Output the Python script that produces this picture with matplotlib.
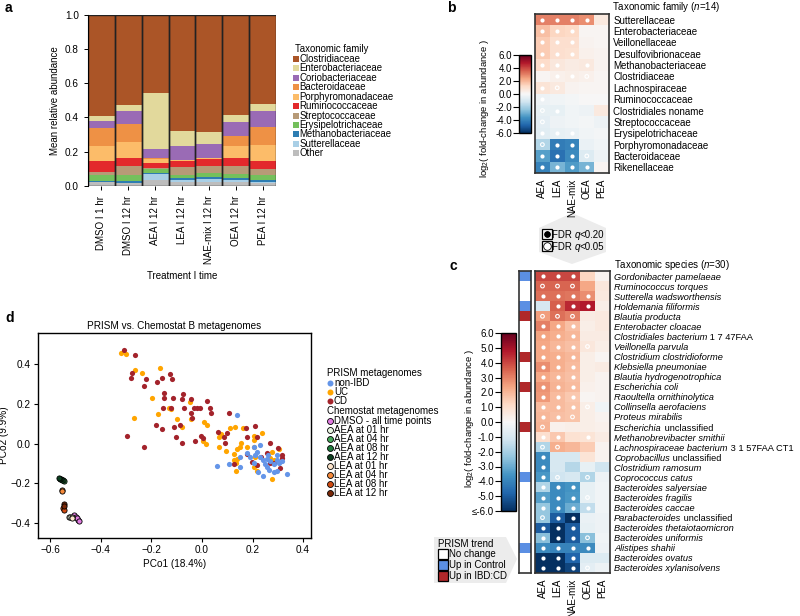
import numpy as np
import matplotlib
matplotlib.use('Agg')
import matplotlib.pyplot as plt
from matplotlib.colors import ListedColormap, Normalize
from matplotlib.patches import Polygon
from matplotlib.lines import Line2D
import matplotlib.transforms as mtransforms
import matplotlib.cm as cm

plt.rcParams['font.family'] = ['Liberation Sans', 'DejaVu Sans']
plt.rcParams['mathtext.fontset'] = 'custom'
plt.rcParams['mathtext.rm'] = 'Liberation Sans'
plt.rcParams['mathtext.it'] = 'Liberation Sans:italic'
plt.rcParams['mathtext.bf'] = 'Liberation Sans:bold'

# ---------------- DATA ----------------
# Panel a
treatments = ['DMSO I 1 hr', 'DMSO I 12 hr', 'AEA I 12 hr', 'LEA I 12 hr',
              'NAE-mix I 12 hr', 'OEA I 12 hr', 'PEA I 12 hr']
families_a = ['Clostridiaceae', 'Enterobacteriaceae', 'Coriobacteriaceae', 'Bacteroidaceae',
              'Porphyromonadaceae', 'Ruminococcaceae', 'Streptococcaceae', 'Erysipelotrichaceae',
              'Methanobacteriaceae', 'Sutterellaceae', 'Other']
other = [0.021, 0.015, 0.035, 0.021, 0.021, 0.023, 0.018]
sutterellaceae = [0.004, 0.005, 0.035, 0.016, 0.022, 0.010, 0.007]
methanobacteriaceae = [0.006, 0.008, 0.005, 0.011, 0.009, 0.011, 0.008]
erysipelotrichaceae = [0.033, 0.035, 0.024, 0.016, 0.024, 0.024, 0.029]
streptococcaceae = [0.017, 0.052, 0.006, 0.046, 0.038, 0.050, 0.038]
ruminococcaceae = [0.066, 0.048, 0.029, 0.033, 0.043, 0.047, 0.047]
porphyromonadaceae = [0.087, 0.092, 0.023, 0.006, 0.006, 0.070, 0.093]
bacteroidaceae = [0.107, 0.108, 0.006, 0.004, 0.003, 0.058, 0.105]
coriobacteriaceae = [0.037, 0.077, 0.054, 0.078, 0.078, 0.079, 0.092]
enterobacteriaceae = [0.033, 0.035, 0.324, 0.087, 0.068, 0.041, 0.041]
clostridiaceae = [0.589, 0.525, 0.459, 0.682, 0.688, 0.587, 0.522]

# Panel b
conditions = ['AEA', 'LEA', 'NAE-mix', 'OEA', 'PEA']
families_b = ['Sutterellaceae', 'Enterobacteriaceae', 'Veillonellaceae', 'Desulfovibrionaceae',
              'Methanobacteriaceae', 'Clostridiaceae', 'Lachnospiraceae', 'Ruminococcaceae',
              'Clostridiales noname', 'Streptococcaceae', 'Erysipelotrichaceae',
              'Porphyromonadaceae', 'Bacteroidaceae', 'Rikenellaceae']
fc_b = [[3.0, 3.0, 3.0, 2.8, 0.6],
        [1.8, 1.3, 1.2, 0.1, 0.1],
        [1.5, 1.0, 1.0, 0.2, 0.1],
        [1.5, 1.0, 0.9, 0.3, 0.2],
        [1.1, 0.7, 0.5, 0.6, 0.2],
        [0.1, 0.3, 0.4, 0.3, 0.1],
        [0.8, 0.6, 0.2, 0.1, 0.1],
        [-0.3, -0.2, -0.1, 0.0, 0.0],
        [-0.5, -0.5, -0.2, -0.3, 0.6],
        [-0.6, -0.3, -0.2, -0.1, -0.3],
        [-0.7, -0.5, -0.4, -0.2, -0.1],
        [-1.8, -4.2, -4.0, -0.4, -0.2],
        [-3.3, -4.5, -3.8, -0.8, -0.3],
        [-4.0, -2.8, -3.4, -2.8, 0.1]]
# F = FDR q<0.05 (filled), R = FDR q<0.20 (ring)
sig_b = ['FFFF-', 'FFF--', 'FFF--', 'FFF--', 'FF-F-', '-FFR-', 'FR---', 'F----',
         'RF---', 'R----', 'FFF--', 'RFF--', 'FFFR-', 'FFFF-']
fdr_labels = ['<0.20', '<0.05']

# Panel c: italic name part + upright suffix
species_it = ['Gordonibacter pamelaeae', 'Ruminococcus torques', 'Sutterella wadsworthensis',
              'Holdemania filiformis', 'Blautia producta', 'Enterobacter cloacae',
              'Clostridiales bacterium', 'Veillonella parvula', 'Clostridium clostridioforme',
              'Klebsiella pneumoniae', 'Blautia hydrogenotrophica', 'Escherichia coli',
              'Raoultella ornithinolytica', 'Collinsella aerofaciens', 'Proteus mirabilis',
              'Escherichia', 'Methanobrevibacter smithii', 'Lachnospiraceae bacterium',
              'Coprobacillus', 'Clostridium ramosum', 'Coprococcus catus',
              'Bacteroides salyersiae', 'Bacteroides fragilis', 'Bacteroides caccae',
              'Parabacteroides', 'Bacteroides thetaiotaomicron', 'Bacteroides uniformis',
              'Alistipes shahii', 'Bacteroides ovatus', 'Bacteroides xylanisolvens']
species_suffix = ['', '', '', '', '', '', '1 7 47FAA', '', '', '', '', '', '', '', '',
                  'unclassified', '', '3 1 57FAA CT1', 'unclassified', '', '', '', '', '',
                  'unclassified', '', '', '', '', '']
fc_c = [[4.0, 4.0, 4.0, 1.3, 0.2],
        [3.5, 3.5, 3.5, 2.3, 0.7],
        [3.3, 3.3, 3.2, 2.8, 0.6],
        [-1.0, 3.6, 4.5, 4.8, 0.4],
        [2.5, 3.3, 3.0, 0.5, 0.6],
        [3.0, 2.3, 1.8, 0.4, 0.6],
        [2.4, 2.2, 2.0, 0.5, 0.5],
        [2.3, 2.0, 1.8, 0.7, 0.4],
        [2.3, 2.2, 2.0, 0.4, 0.1],
        [2.8, 2.2, 1.9, 0.4, 0.5],
        [2.3, 2.0, 1.8, 0.4, 0.2],
        [2.7, 2.1, 1.9, 0.3, 0.2],
        [2.6, 1.9, 1.6, 0.1, 0.2],
        [1.9, 1.9, 1.7, 0.4, -0.2],
        [2.0, 1.8, 1.7, 0.4, 0.2],
        [2.1, 0.3, 0.4, 0.4, 0.3],
        [1.0, 1.6, 0.9, 0.8, 0.5],
        [-1.8, 2.2, 2.0, 1.5, 0.2],
        [-3.8, -1.0, -1.0, 0.8, 0.2],
        [-3.8, -1.0, -1.7, -0.5, -1.2],
        [-3.5, -1.2, -1.0, -1.8, -0.3],
        [-1.8, -3.8, -3.6, -0.5, -0.2],
        [-3.3, -3.8, -3.5, -0.5, -0.2],
        [-2.3, -3.8, -3.0, -1.5, -0.2],
        [-2.3, -5.0, -6.0, -0.4, -0.3],
        [-5.0, -6.0, -5.0, -0.5, -0.3],
        [-2.5, -6.0, -5.0, -2.5, -0.2],
        [-3.8, -4.0, -4.0, -3.8, -0.3],
        [-6.0, -6.0, -4.8, -0.8, -0.8],
        [-6.0, -6.0, -5.5, -0.6, -0.3]]
sig_c = ['FFF--', 'RRR--', 'FFFF-', '-FFF-', 'RRR--', 'FFF--', 'FFF--', 'FFFR-',
         'FFF--', 'FFF--', 'FFF--', 'FFF--', 'FFF--', 'FFFR-', 'FFR--', 'R----',
         'FF-F-', 'RR---', 'F----', 'F----', 'FR-R-', 'FFF--', 'FFFR-', 'FFFF-',
         'RFF--', 'FFF--', 'FFFR-', 'FFFF-', 'FFF--', 'FFFR-']
# 0 = no change, 1 = up in control, 2 = up in IBD:CD
trend_c = [1, 0, 0, 1, 2, 0, 0, 0, 2, 0, 0, 2, 0, 0, 0, 2, 0, 0, 0, 0, 1, 0, 0, 0, 0, 0, 0, 1, 0, 0]
trend_labels = ['No change', 'Up in Control', 'Up in IBD:CD']

# Panel d
nonibd_x = [0.138, 0.061, 0.109, 0.177, 0.204, 0.230, 0.210, 0.230, 0.243, 0.256, 0.270, 0.284,
            0.296, 0.316, 0.338, 0.296, 0.256, 0.243, 0.223, 0.284, 0.296, 0.204, 0.190, 0.151,
            0.151, 0.267, 0.250, 0.306, 0.263, 0.217]
nonibd_y = [0.143, -0.113, -0.103, -0.046, -0.016, -0.009, -0.058, -0.066, -0.083, -0.080,
            -0.087, -0.103, -0.083, -0.087, -0.154, -0.058, -0.117, -0.164, -0.142, -0.142,
            -0.137, -0.100, -0.066, -0.117, -0.066, -0.133, -0.103, -0.100, -0.058, -0.041]
uc_x = [-0.321, -0.301, -0.264, -0.238, -0.165, -0.196, -0.268, -0.172, -0.132, -0.123, -0.049,
        -0.098, -0.043, 0.009, 0.022, -0.080, 0.015, 0.006, 0.069, 0.077, 0.111, 0.131, 0.164,
        0.069, 0.097, 0.125, 0.138, 0.151, 0.154, 0.140, 0.125, 0.134, 0.136, 0.204, 0.239,
        0.204, 0.210, 0.204, 0.217, 0.277, 0.284, 0.270, 0.305, 0.277, 0.204, 0.177]
uc_y = [0.457, 0.450, 0.368, 0.356, 0.380, 0.231, 0.127, 0.150, 0.177, 0.173, 0.210, 0.125,
        0.123, 0.110, 0.095, 0.081, -0.004, 0.011, 0.031, 0.048, 0.078, 0.085, 0.080, -0.016,
        -0.036, -0.055, -0.028, -0.016, 0.001, -0.080, -0.083, -0.100, -0.139, 0.038, 0.054,
        0.017, -0.066, -0.117, -0.137, -0.041, -0.083, -0.075, -0.030, -0.177, -0.016, -0.016]
cd_x = [-0.306, -0.265, -0.277, -0.281, -0.222, -0.228, -0.176, -0.157, -0.126, -0.119, -0.148,
        -0.148, -0.113, -0.080, -0.044, -0.074, 0.022, -0.152, -0.122, -0.069, -0.043, -0.030,
        -0.018, -0.007, 0.032, 0.037, -0.181, -0.159, -0.109, -0.087, -0.041, -0.297, -0.102,
        -0.078, -0.027, -0.004, 0.005, -0.227, 0.064, 0.088, 0.099, 0.108, 0.093, 0.125, 0.173,
        0.210, 0.177, 0.217, 0.270, 0.197, 0.233, 0.270, 0.302, 0.316, 0.309, 0.177, 0.286,
        0.256, 0.217, 0.317]
cd_y = [0.469, 0.444, 0.355, 0.331, 0.326, 0.289, 0.311, 0.330, 0.350, 0.326, 0.252, 0.231,
        0.227, 0.225, 0.225, 0.247, 0.215, 0.177, 0.177, 0.177, 0.152, 0.180, 0.177, 0.177,
        0.177, 0.152, 0.091, 0.071, 0.081, 0.093, 0.127, 0.039, 0.031, 0.004, 0.014, 0.039,
        0.028, -0.016, 0.058, 0.034, 0.054, 0.152, 0.004, -0.103, 0.080, 0.090, 0.034, 0.031,
        0.001, -0.095, -0.066, -0.097, -0.023, -0.058, -0.125, -0.053, -0.100, -0.050, -0.108,
        -0.071]
chem_groups = ['DMSO - all time points', 'AEA at 01 hr', 'AEA at 04 hr', 'AEA at 08 hr',
               'AEA at 12 hr', 'LEA at 01 hr', 'LEA at 04 hr', 'LEA at 08 hr', 'LEA at 12 hr']
chem_x = [[-0.505, -0.498, -0.490, -0.495, -0.485], [-0.525, -0.520], [-0.545, -0.548],
          [-0.553, -0.557], [-0.562, -0.565], [-0.512, -0.515], [-0.553, -0.551],
          [-0.548, -0.547], [-0.545, -0.546]]
chem_y = [[-0.360, -0.370, -0.385, -0.375, -0.390], [-0.367, -0.370], [-0.188, -0.185],
          [-0.182, -0.179], [-0.176, -0.175], [-0.368, -0.372], [-0.236, -0.240],
          [-0.325, -0.333], [-0.303, -0.313]]

# ---------------- STYLE ----------------
fam_colors = ['#AB5527', '#E2D99C', '#9A6BB5', '#EE9145', '#FCBC69', '#E3292C', '#B79A77',
              '#74C05C', '#2E7DB2', '#A9CFE6', '#BDBDBD']
chem_colors = ['#E07BE0', '#EAF6E4', '#45A85A', '#1E7A3C', '#0B3D1E', '#FDE5CC', '#F5893A',
               '#D04A10', '#7A2808']
c_nonibd, c_uc, c_cd = '#6495E8', '#FFA500', '#A3232B'
trend_blue, trend_red = '#5B8FE3', '#B0282A'

W, H = 800, 616
fig = plt.figure(figsize=(8, 6.16), dpi=100)


def rect(x0, y0, x1, y1):
    return [x0 / W, 1 - y1 / H, (x1 - x0) / W, (y1 - y0) / H]


def fxy(x, y):
    return (x / W, 1 - y / H)


def fig_marker(x, y, **kw):
    fig.add_artist(Line2D([x / W], [1 - y / H], transform=fig.transFigure,
                          linestyle='none', **kw))


FS = 7.0

# panel labels
for lab, (x, y) in zip('abcd', [(5, 8), (447, 8), (449, 266), (5, 318)]):
    fig.text(*fxy(x, y), lab, fontsize=10, fontweight='bold', ha='left', va='center')

# ---------------- PANEL A ----------------
axa = fig.add_axes(rect(88, 14.5, 276, 186))
stack = [other, sutterellaceae, methanobacteriaceae, erysipelotrichaceae, streptococcaceae,
         ruminococcaceae, porphyromonadaceae, bacteroidaceae, coriobacteriaceae,
         enterobacteriaceae, clostridiaceae]
stack_cols = fam_colors[::-1]
xpos = np.arange(len(treatments))
bottom = np.zeros(len(treatments))
for vals, col in zip(stack, stack_cols):
    axa.bar(xpos, vals, bottom=bottom, width=1.0, color=col, linewidth=0)
    bottom = bottom + np.array(vals)
axa.bar(xpos, bottom, width=1.0, fill=False, edgecolor='#222222', linewidth=1.0)
axa.set_xlim(-0.5, len(treatments) - 0.5)
axa.set_ylim(0, 1.0)
for s in ['top', 'right', 'bottom']:
    axa.spines[s].set_visible(False)
axa.spines['left'].set_linewidth(0.8)
yt = np.arange(0, 1.01, 0.2)
axa.set_yticks(yt)
axa.set_yticklabels(['%.1f' % v for v in yt], fontsize=7.2)
axa.set_xticks(xpos)
axa.set_xticklabels(treatments, rotation=90, fontsize=7.0)
axa.tick_params(axis='both', length=3, width=0.7)
axa.tick_params(axis='x', pad=4)
axa.set_ylabel('Mean relative abundance', fontsize=7.0)
axa.yaxis.set_label_coords((60 - 88) / 188.0, 0.5)
axa.set_xlabel('Treatment I time', fontsize=7.0, labelpad=5)

# legend a (manual)
fig.text(*fxy(295, 49), 'Taxonomic family', fontsize=6.9, ha='left', va='center')
for k, (col, lab) in enumerate(zip(fam_colors, families_a)):
    yy = 58.7 + k * 9.47
    fig_marker(295.5, yy, marker='s', markersize=5, markerfacecolor=col, markeredgewidth=0)
    fig.text(*fxy(299.5, yy), lab, fontsize=6.9, ha='left', va='center')

# ---------------- heatmap helper ----------------
norm = Normalize(vmin=-6, vmax=6)


def heatmap(ax, vals, sig):
    vals = np.array(vals)
    n = vals.shape[0]
    ax.pcolormesh(np.arange(vals.shape[1] + 1), np.arange(n + 1), vals, cmap='RdBu_r',
                  norm=norm, linewidth=0)
    ax.set_xlim(0, vals.shape[1])
    ax.set_ylim(n, 0)
    for i, srow in enumerate(sig):
        for j, ch in enumerate(srow):
            if ch == 'F':
                ax.scatter(j + 0.5, i + 0.5, s=9, color='white', linewidths=0, zorder=3)
            elif ch == 'R':
                ax.scatter(j + 0.5, i + 0.5, s=7, facecolors='none', edgecolors='white',
                           linewidths=0.8, zorder=3)
    for s in ax.spines.values():
        s.set_linewidth(1.2)
        s.set_color('#333333')
    ax.set_xticks(np.arange(vals.shape[1]) + 0.5)
    ax.set_xticklabels(conditions, rotation=90, fontsize=FS)
    ax.set_yticks(np.arange(n) + 0.5)
    ax.yaxis.tick_right()
    ax.tick_params(axis='both', length=0, pad=3)


# ---------------- PANEL B ----------------
axb = fig.add_axes(rect(535, 14, 609, 173))
heatmap(axb, fc_b, sig_b)
axb.set_yticklabels(families_b, fontsize=7.0)
axb.tick_params(axis='x', pad=4)
fig.text(*fxy(612, 7), r'Taxonomic family ($\it{n}$=14)', fontsize=7.0, ha='left', va='center')

caxb = fig.add_axes(rect(519, 55, 531, 133))
cbb = fig.colorbar(cm.ScalarMappable(norm=norm, cmap='RdBu_r'), cax=caxb)
bt = np.arange(-6, 6.1, 2)
cbb.set_ticks(bt)
cbb.set_ticklabels(['%.1f' % v for v in bt])
caxb.yaxis.set_ticks_position('left')
caxb.tick_params(labelsize=7.0, length=4, width=0.8, pad=1)
cbb.outline.set_linewidth(1.0)
fig.text(*fxy(485, 108), r'log$_2$( fold-change in abundance )', rotation=90, fontsize=6.8,
         ha='center', va='center')

# FDR legend box
poly = Polygon([fxy(572, 213), fxy(606, 228), fxy(606, 252), fxy(572, 264), fxy(539, 252),
                fxy(539, 228)], closed=True, transform=fig.transFigure, facecolor='#ECECEC',
               edgecolor='none', zorder=0)
fig.add_artist(poly)
for yy, inner, lab in zip([234, 246], ['black', 'white'], fdr_labels):
    fig_marker(547, yy, marker='s', markersize=7.5, markerfacecolor='white',
               markeredgecolor='black', markeredgewidth=0.9)
    fig_marker(547, yy, marker='o', markersize=5.5, markerfacecolor=inner,
               markeredgecolor='white' if inner == 'black' else 'black', markeredgewidth=0.6)
    t1 = fig.text(*fxy(552, yy), 'FDR ', fontsize=7.0, ha='left', va='center_baseline')
    t2 = fig.text(0, 0, 'q', fontsize=7.0, fontstyle='italic', ha='left', va='bottom')
    t2.set_position((1.0, 0.0))
    t2.set_transform(mtransforms.offset_copy(fig.transFigure, fig=fig))
    t2.remove()
    a2 = plt.annotate('q', xy=(1.0, 0.0), xycoords=t1, fontsize=7.0, fontstyle='italic',
                      ha='left', va='bottom', annotation_clip=False)
    plt.annotate(lab, xy=(1.0, 0.0), xycoords=a2, fontsize=7.0, ha='left', va='bottom',
                 annotation_clip=False)

# ---------------- PANEL C ----------------
axc = fig.add_axes(rect(535, 271, 610, 573))
heatmap(axc, fc_c, sig_c)
axc.set_yticklabels([])
axc.tick_params(axis='x', pad=4)
lab_tr = mtransforms.blended_transform_factory(axc.transAxes, axc.transData)
lab_x = (614 - 535) / 75.0
SFS = 6.7
for i, (nm, sfx) in enumerate(zip(species_it, species_suffix)):
    t = axc.text(lab_x, i + 0.5, nm, transform=lab_tr, fontsize=SFS, fontstyle='italic',
                 ha='left', va='center_baseline')
    if sfx:
        axc.annotate(' ' + sfx, xy=(1.0, 0.0), xycoords=t, fontsize=SFS, ha='left',
                     va='bottom', annotation_clip=False)
fig.text(*fxy(614, 265), r'Taxonomic species ($\it{n}$=30)', fontsize=7.0, ha='left', va='center')

axt = fig.add_axes(rect(519, 271, 531, 573))
tcmap = ListedColormap(['white', trend_blue, trend_red])
axt.pcolormesh(np.arange(2), np.arange(len(trend_c) + 1), np.array(trend_c).reshape(-1, 1),
               cmap=tcmap, vmin=-0.5, vmax=2.5)
axt.set_ylim(len(trend_c), 0)
axt.set_xticks([])
axt.set_yticks([])
for s in axt.spines.values():
    s.set_linewidth(1.2)
    s.set_color('#333333')

caxc = fig.add_axes(rect(501, 333, 516, 511))
cbc = fig.colorbar(cm.ScalarMappable(norm=norm, cmap='RdBu_r'), cax=caxc)
ctk = np.arange(-6, 6.1, 1)
cbc.set_ticks(ctk)
cbc.set_ticklabels(['≤-6.0'] + ['%.1f' % v for v in ctk[1:]])
caxc.yaxis.set_ticks_position('left')
caxc.tick_params(labelsize=7.0, length=4, width=0.8, pad=1)
cbc.outline.set_linewidth(1.0)
fig.text(*fxy(470, 418), r'log$_2$( fold-change in abundance )', rotation=90, fontsize=6.8,
         ha='center', va='center')

# PRISM trend legend
poly2 = Polygon([fxy(434, 537), fxy(506, 537), fxy(517, 559), fxy(506, 583), fxy(434, 583)],
                closed=True, transform=fig.transFigure, facecolor='#ECECEC', edgecolor='none',
                zorder=0)
fig.add_artist(poly2)
fig.text(*fxy(438, 544), 'PRISM trend', fontsize=7.0, ha='left', va='center')
for yy, col, lab in zip([554, 565, 576], ['white', trend_blue, trend_red], trend_labels):
    fig_marker(443, yy, marker='s', markersize=7, markerfacecolor=col,
               markeredgecolor='black', markeredgewidth=0.9)
    fig.text(*fxy(449, yy), lab, fontsize=7.0, ha='left', va='center')

# ---------------- PANEL D ----------------
axd = fig.add_axes(rect(37.7, 332.7, 310.7, 538))
ms = 14
axd.scatter(uc_x, uc_y, s=ms, color=c_uc, linewidths=0, zorder=2)
axd.scatter(cd_x, cd_y, s=ms, color=c_cd, linewidths=0, zorder=2)
axd.scatter(nonibd_x, nonibd_y, s=ms, color=c_nonibd, linewidths=0, zorder=2)
for gx, gy, col in zip(chem_x, chem_y, chem_colors):
    axd.scatter(gx, gy, s=ms, color=col, edgecolors='black', linewidths=0.6, zorder=3)
axd.set_xlim(-0.649, 0.43)
axd.set_ylim(-0.475, 0.557)
xt = [-0.6, -0.4, -0.2, 0.0, 0.2, 0.4]
axd.set_xticks(xt)
axd.set_xticklabels([('%.1f' % v).replace('-', '\u2212') for v in xt], fontsize=7.2)
ytd = [-0.4, -0.2, 0.0, 0.2, 0.4]
axd.set_yticks(ytd)
axd.set_yticklabels([('%.1f' % v).replace('-', '\u2212') for v in ytd], fontsize=7.2)
axd.tick_params(length=3, width=0.8, pad=2)
for s in axd.spines.values():
    s.set_linewidth(1.0)
axd.set_xlabel('PCo1 (18.4%)', fontsize=7.2, labelpad=3)
axd.set_ylabel('PCo2 (9.9%)', fontsize=7.2)
axd.yaxis.set_label_coords((9 - 37.7) / 273.0, 0.5)
axd.set_title('PRISM vs. Chemostat B metagenomes', fontsize=7.2, pad=3)

# legend d (manual)
fig.text(*fxy(327, 373), 'PRISM metagenomes', fontsize=7.0, ha='left', va='center')
for yy, col, lab in [(382.7, c_nonibd, 'non-IBD'), (391.7, c_uc, 'UC'), (400.7, c_cd, 'CD')]:
    fig_marker(329.5, yy, marker='o', markersize=4.3, markerfacecolor=col, markeredgewidth=0)
    fig.text(*fxy(334, yy), lab, fontsize=7.0, ha='left', va='center')
fig.text(*fxy(327, 411), 'Chemostat metagenomes', fontsize=7.0, ha='left', va='center')
for k, (col, lab) in enumerate(zip(chem_colors, chem_groups)):
    yy = 420.7 + k * 9.0
    fig_marker(329.5, yy, marker='o', markersize=4.3, markerfacecolor=col,
               markeredgecolor='black', markeredgewidth=0.6)
    fig.text(*fxy(334, yy), lab, fontsize=7.0, ha='left', va='center')

fig.savefig('out.png', dpi=100)
